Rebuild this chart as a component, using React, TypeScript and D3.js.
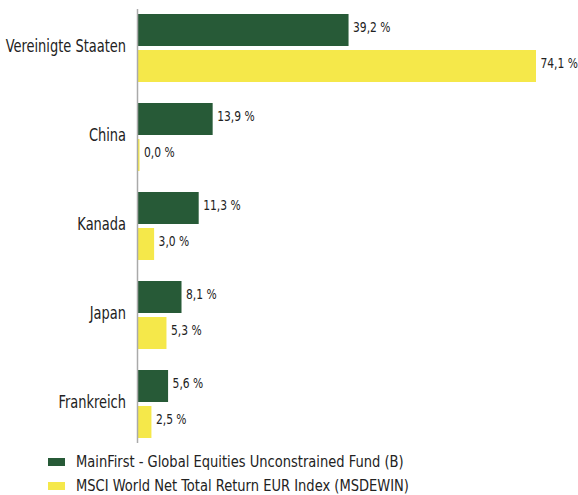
import * as d3 from "d3";

const categories = ["Vereinigte Staaten", "China", "Kanada", "Japan", "Frankreich"];
const seriesNames = [
  "MainFirst - Global Equities Unconstrained Fund (B)",
  "MSCI World Net Total Return EUR Index (MSDEWIN)",
];
const fundValues = [39.2, 13.9, 11.3, 8.1, 5.6];
const indexValues = [74.1, 0.0, 3.0, 5.3, 2.5];
const colors = ["#275a37", "#f5e84a"];

const font = "'DejaVu Sans Condensed', 'DejaVu Sans', sans-serif";

// narrow text: DejaVu condensed squeezed a bit more to look like the original face
const Label = ({ x, y, size, anchor = "start", sx = 0.87, children }: any) => (
  <text
    transform={`translate(${x},${y}) scale(${sx},1)`}
    textAnchor={anchor}
    fontSize={size}
    fill="#222"
  >
    {children}
  </text>
);

export default function App() {
  const width = 578;
  const height = 495;
  const axisX = 137.5;

  // category bands
  const y0 = d3
    .scaleBand<string>()
    .domain(categories)
    .range([3.5, 448.5])
    .paddingInner(21 / 89)
    .paddingOuter(10.5 / 89);

  const y1 = d3
    .scaleBand<number>()
    .domain([0, 1])
    .range([0, y0.bandwidth()])
    .paddingInner(4 / 36);

  const x = d3.scaleLinear().domain([0, 80]).range([138, 138 + 5.371 * 80]);
  const fmt = (v: number) => d3.format(".1f")(v).replace(".", ",") + " %";

  const series = [fundValues, indexValues];

  return (
    <svg width={width} height={height} style={{ position: "absolute", left: 0, top: 0 }}>
      <g fontFamily={font} style={{ fontStretch: "condensed" }}>
        {categories.map((c, i) => (
          <g key={c} transform={`translate(0,${y0(c)})`}>
            <Label x={126} y={y0.bandwidth() / 2 + 3.7} size={17} anchor="end" sx={0.85}>
              {c}
            </Label>
            {series.map((vals, s) => (
              <g key={s}>
                <rect
                  x={x(0)}
                  y={y1(s)}
                  width={Math.max(x(vals[i]) - x(0), s === 1 && vals[i] === 0 ? 1.5 : 0)}
                  height={y1.bandwidth()}
                  fill={colors[s]}
                />
                <Label
                  x={Math.max(x(vals[i]), x(0) + 1.5) + 4.5}
                  y={(y1(s) ?? 0) + y1.bandwidth() / 2 + 1.8}
                  size={13.7}
                >
                  {fmt(vals[i])}
                </Label>
              </g>
            ))}
          </g>
        ))}
        <line x1={axisX} x2={axisX} y1={9} y2={443} stroke="#aaa" strokeWidth={1.5} />
        {seriesNames.map((n, s) => (
          <g key={n} transform={`translate(48,${458 + s * 24})`}>
            <rect width={17} height={8} fill={colors[s]} />
            <Label x={28} y={9.3} size={15.8} sx={0.92}>
              {n}
            </Label>
          </g>
        ))}
      </g>
    </svg>
  );
}
